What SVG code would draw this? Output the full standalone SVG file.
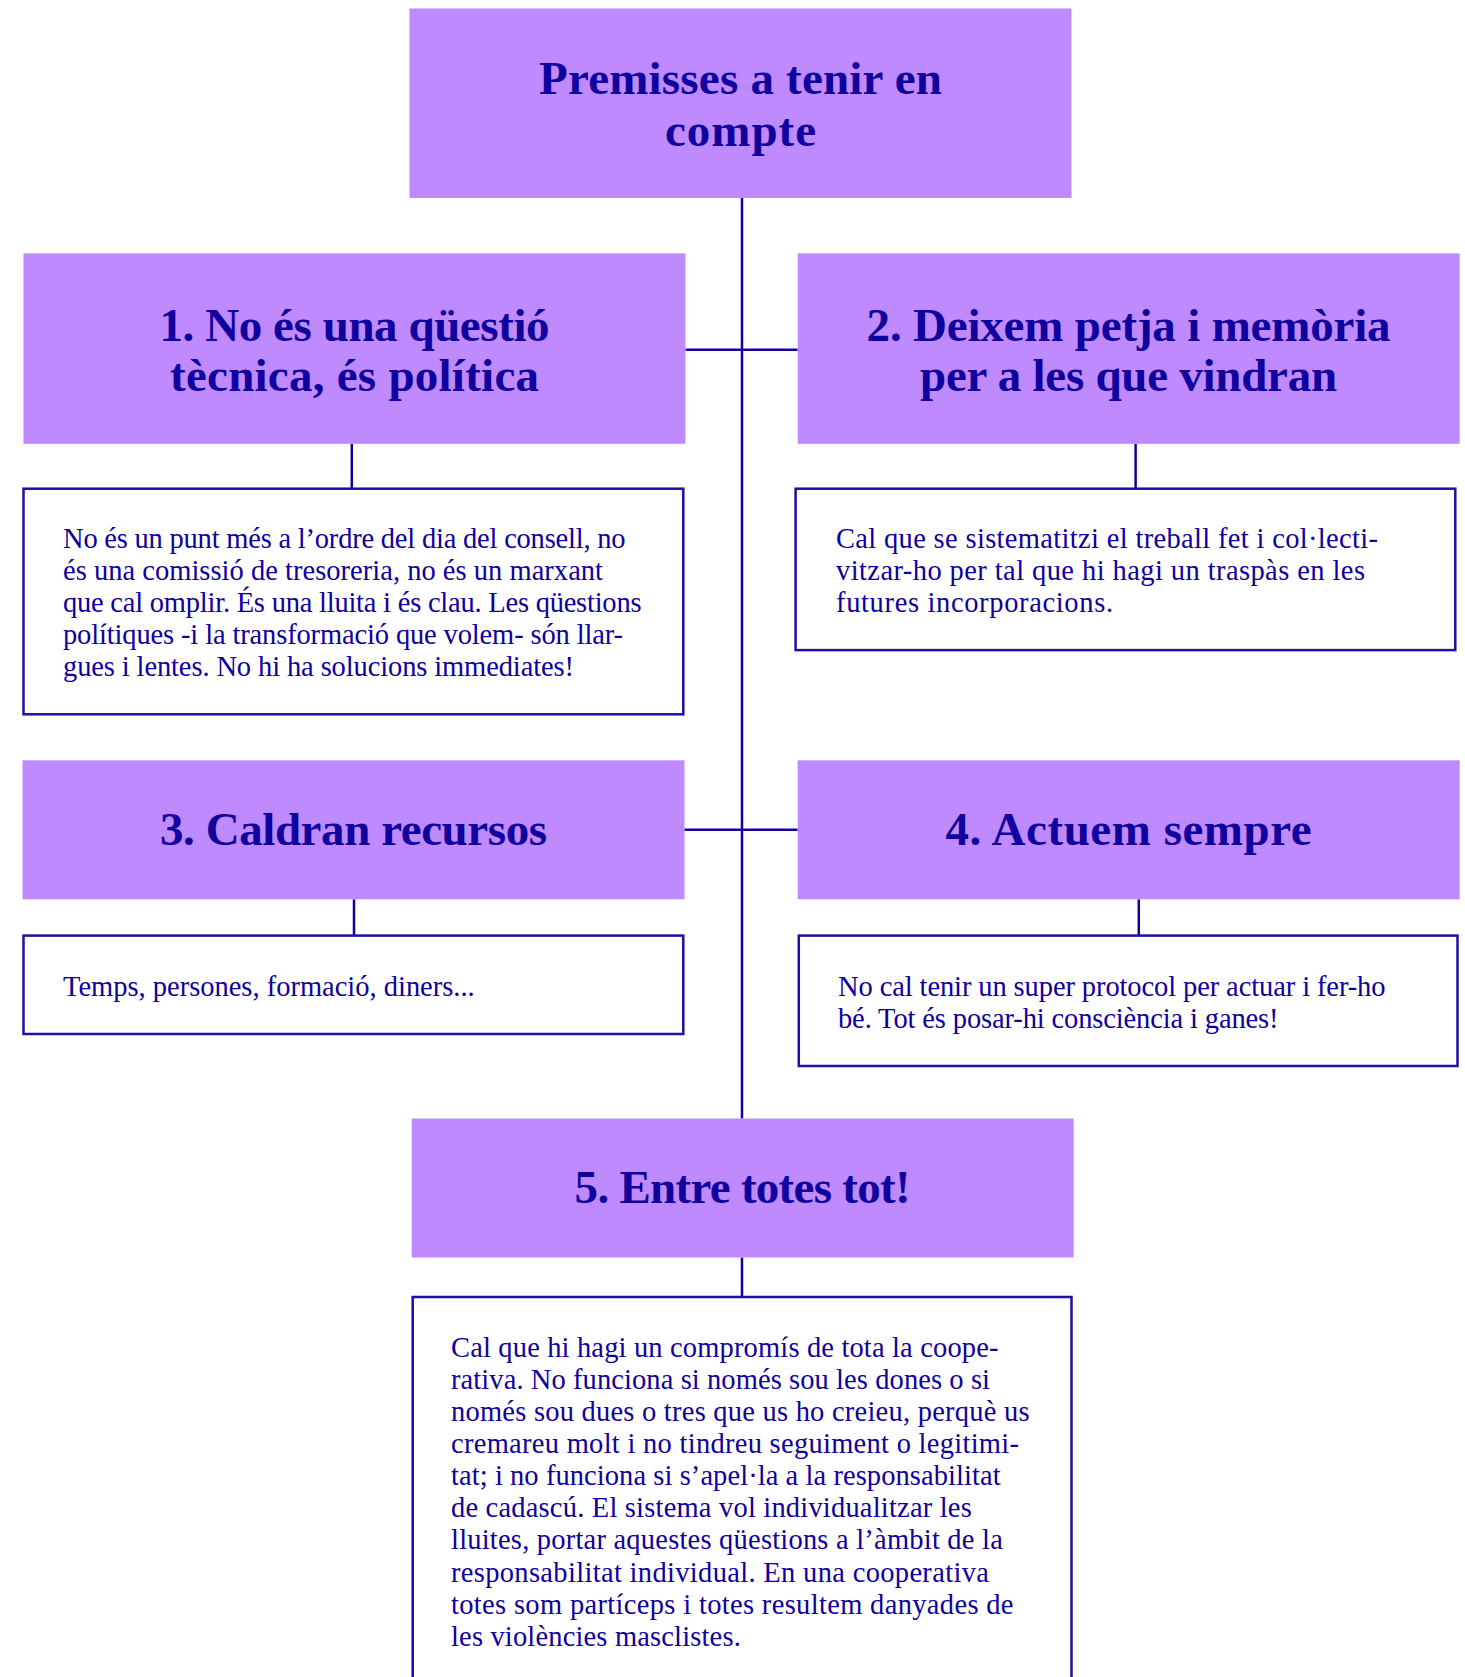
<svg xmlns="http://www.w3.org/2000/svg" width="1465" height="1677" viewBox="0 0 1465 1677">
<style>
.head{fill:#BE8AFE}
.desc{fill:#FFFFFF;stroke:#1A0FA6;stroke-width:2.5}
.ht{font-family:"Liberation Serif",serif;font-weight:bold;font-size:47px;fill:#10009E;text-anchor:middle}
.bt{font-family:"Liberation Serif",serif;font-size:28.5px;fill:#10009E}
.conn line{stroke:#10009E;stroke-width:2.5}
</style>
<rect width="1465" height="1677" fill="#FFFFFF"/>
<g class="conn" id="connectors">
<line x1="742" y1="198" x2="742" y2="1118.5"/>
<line x1="685.5" y1="349.7" x2="797.7" y2="349.7"/>
<line x1="684.4" y1="829.8" x2="797.7" y2="829.8"/>
<line x1="351.8" y1="443.8" x2="351.8" y2="488.7"/>
<line x1="1135.6" y1="443.8" x2="1135.6" y2="488.7"/>
<line x1="354" y1="899.3" x2="354" y2="935.6"/>
<line x1="1138.8" y1="899.3" x2="1138.8" y2="935.6"/>
<line x1="742" y1="1257.5" x2="742" y2="1297"/>
</g>
<g id="title">
<rect class="head" x="409.5" y="8.5" width="662" height="189.5"/>
<text class="ht" x="740.5" y="94" textLength="403">Premisses a tenir en</text>
<text class="ht" x="740.5" y="146" textLength="151">compte</text>
</g>
<g id="p1">
<rect class="head" x="23.5" y="253.4" width="662" height="190.4"/>
<text class="ht" x="354.5" y="341" textLength="390">1. No és una qüestió</text>
<text class="ht" x="354.5" y="391" textLength="369">tècnica, és política</text>
</g>
<g id="p2">
<rect class="head" x="797.7" y="253.4" width="662" height="190.4"/>
<text class="ht" x="1128.6" y="341" textLength="524">2. Deixem petja i memòria</text>
<text class="ht" x="1128.6" y="391" textLength="417">per a les que vindran</text>
</g>
<g id="d1">
<rect class="desc" x="23.5" y="488.7" width="659.8" height="225.6"/>
<text class="bt" x="63" y="547.5" textLength="562.5">No és un punt més a l’ordre del dia del consell, no</text>
<text class="bt" x="63" y="579.5" textLength="540">és una comissió de tresoreria, no és un marxant</text>
<text class="bt" x="63" y="611.6" textLength="578.5">que cal omplir. És una lluita i és clau. Les qüestions</text>
<text class="bt" x="63" y="643.7" textLength="560">polítiques -i la transformació que volem- són llar-</text>
<text class="bt" x="63" y="675.8" textLength="511">gues i lentes. No hi ha solucions immediates!</text>
</g>
<g id="d2">
<rect class="desc" x="795.6" y="488.7" width="659.7" height="161.4"/>
<text class="bt" x="836" y="547.5" textLength="542">Cal que se sistematitzi el treball fet i col·lecti-</text>
<text class="bt" x="836" y="579.5" textLength="529">vitzar-ho per tal que hi hagi un traspàs en les</text>
<text class="bt" x="836" y="611.6" textLength="277">futures incorporacions.</text>
</g>
<g id="p3">
<rect class="head" x="22.5" y="760.3" width="662" height="139"/>
<text class="ht" x="353.5" y="845" textLength="387">3. Caldran recursos</text>
</g>
<g id="p4">
<rect class="head" x="797.7" y="760.3" width="662" height="139"/>
<text class="ht" x="1128.6" y="845" textLength="366">4. Actuem sempre</text>
</g>
<g id="d3">
<rect class="desc" x="23.5" y="935.6" width="659.8" height="98.4"/>
<text class="bt" x="63" y="995.5" textLength="411.7">Temps, persones, formació, diners...</text>
</g>
<g id="d4">
<rect class="desc" x="798.8" y="935.6" width="658.7" height="130.4"/>
<text class="bt" x="838" y="995.5" textLength="547.5">No cal tenir un super protocol per actuar i fer-ho</text>
<text class="bt" x="838" y="1027.6" textLength="440.5">bé. Tot és posar-hi consciència i ganes!</text>
</g>
<g id="p5">
<rect class="head" x="411.7" y="1118.5" width="662" height="139"/>
<text class="ht" x="742.6" y="1203" textLength="336">5. Entre totes tot!</text>
</g>
<g id="d5">
<rect class="desc" x="412.7" y="1297" width="658.8" height="400"/>
<text class="bt" x="451" y="1357" textLength="547.5">Cal que hi hagi un compromís de tota la coope-</text>
<text class="bt" x="451" y="1389" textLength="539">rativa. No funciona si només sou les dones o si</text>
<text class="bt" x="451" y="1421" textLength="578.5">només sou dues o tres que us ho creieu, perquè us</text>
<text class="bt" x="451" y="1453" textLength="568">cremareu molt i no tindreu seguiment o legitimi-</text>
<text class="bt" x="451" y="1485.3" textLength="549.6">tat; i no funciona si s’apel·la a la responsabilitat</text>
<text class="bt" x="451" y="1517.3" textLength="520.8">de cadascú. El sistema vol individualitzar les</text>
<text class="bt" x="451" y="1549.4" textLength="551.8">lluites, portar aquestes qüestions a l’àmbit de la</text>
<text class="bt" x="451" y="1581.5" textLength="537.9">responsabilitat individual. En una cooperativa</text>
<text class="bt" x="451" y="1613.6" textLength="562.5">totes som partíceps i totes resultem danyades de</text>
<text class="bt" x="451" y="1645.7" textLength="289.8">les violències masclistes.</text>
</g>
</svg>
